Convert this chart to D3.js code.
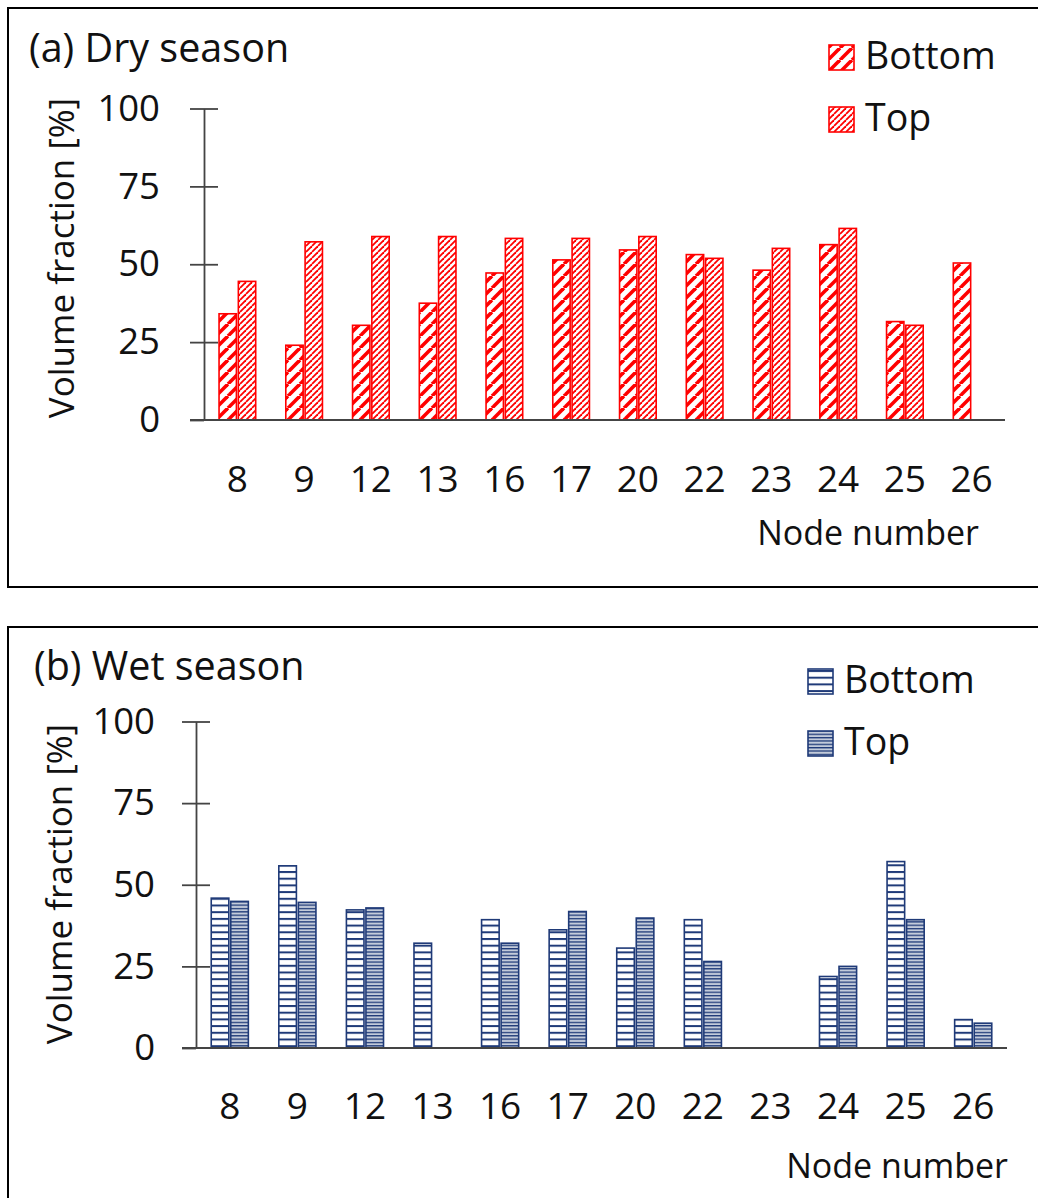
<!DOCTYPE html>
<html>
<head>
<meta charset="utf-8">
<script src="https://cdn.jsdelivr.net/npm/d3@7"></script>
<style>
  html, body { margin: 0; padding: 0; background: #fff; }
  svg { display: block; font-family: "Open Sans", "Noto Sans", sans-serif; }
</style>
</head>
<body>
<svg id="chart" width="1038" height="1198"></svg>
<script>
// Node numbers along the channel
const nodes = ["8", "9", "12", "13", "16", "17", "20", "22", "23", "24", "25", "26"];
// Volume fraction [%] in the dry season
const dryBottom = [34.1, 24.0, 30.4, 37.5, 47.2, 51.4, 54.6, 53.1, 48.1, 56.3, 31.6, 50.4];
const dryTop    = [44.5, 57.2, 58.9, 58.9, 58.3, 58.3, 58.9, 51.9, 55.1, 61.5, 30.4, null];
// Volume fraction [%] in the wet season
const wetBottom = [45.9, 55.8, 42.3, 32.1, 39.3, 36.2, 30.6, 39.3, null, 21.9, 57.1, 8.7];
const wetTop    = [44.9, 44.6, 42.9, null, 32.1, 41.8, 39.8, 26.5, null, 25.0, 39.3, 7.6];
const yTicks = [0, 25, 50, 75, 100];
const seriesNames = ["Bottom", "Top"];

const RED = "#ff0000";
const NAVY = "#1f3a78";

const svg = d3.select("#chart");
const defs = svg.append("defs");

// Hatch patterns
function diagPattern(id, size, width, color) {
  const p = defs.append("pattern").attr("id", id)
    .attr("patternUnits", "userSpaceOnUse")
    .attr("width", size).attr("height", size);
  p.append("rect").attr("width", size).attr("height", size).attr("fill", "#fff");
  // upward diagonal lines "/"
  [-size, 0, size].forEach(o => {
    p.append("line")
      .attr("x1", o).attr("y1", size)
      .attr("x2", o + size).attr("y2", 0)
      .attr("stroke", color).attr("stroke-width", width);
  });
}
function horizPattern(id, size, width, color, bg) {
  const p = defs.append("pattern").attr("id", id)
    .attr("patternUnits", "userSpaceOnUse")
    .attr("width", 10).attr("height", size);
  p.append("rect").attr("width", 10).attr("height", size).attr("fill", bg);
  p.append("rect").attr("x", 0).attr("y", 0).attr("width", 10).attr("height", width).attr("fill", color);
}
diagPattern("dryBottomHatch", 12, 3.6, RED);
diagPattern("dryTopHatch", 6, 1.8, RED);
horizPattern("wetBottomHatch", 6.7, 2.0, NAVY, "#ffffff");
horizPattern("wetTopHatch", 3.35, 1.3, NAVY, "#c3cbda");

function drawPanel(cfg) {
  const g = svg.append("g");

  // panel frame
  g.append("rect")
    .attr("x", cfg.frame[0]).attr("y", cfg.frame[1])
    .attr("width", cfg.frame[2]).attr("height", cfg.frame[3])
    .attr("fill", "none").attr("stroke", "#000").attr("stroke-width", 2);

  const x = d3.scaleBand().domain(nodes).range([cfg.x0, cfg.x1]).paddingInner(0).paddingOuter(0);
  const xs = d3.scaleBand().domain(seriesNames).range([0, x.bandwidth()]).paddingInner(0.1).paddingOuter(0.78);
  const y = d3.scaleLinear().domain([0, 100]).range([cfg.y0, cfg.yTop]);

  // bars
  const series = [
    { name: "Bottom", values: cfg.bottom, fill: cfg.fills[0] },
    { name: "Top", values: cfg.top, fill: cfg.fills[1] }
  ];
  series.forEach(s => {
    g.append("g").selectAll("rect")
      .data(nodes.map((n, i) => ({ n, v: s.values[i] })).filter(d => d.v != null))
      .join("rect")
      .attr("x", d => x(d.n) + xs(s.name))
      .attr("y", d => y(d.v))
      .attr("width", xs.bandwidth())
      .attr("height", d => y(0) - y(d.v))
      .attr("fill", `url(#${s.fill})`)
      .attr("stroke", cfg.color).attr("stroke-width", 1.6);
  });

  // x axis
  const xAxis = g.append("g").attr("transform", `translate(0,${cfg.y0})`)
    .call(d3.axisBottom(x).tickSize(0).tickSizeOuter(0));
  xAxis.select(".domain").attr("stroke", "#444").attr("stroke-width", 1.8)
    .attr("d", `M${cfg.x0 - 14},0H${cfg.x1}`);
  xAxis.selectAll("text").attr("y", cfg.xLabelDy).attr("dy", 0)
    .attr("font-size", 37).attr("fill", "#111").attr("font-family", "Open Sans");

  // y axis with crossing ticks
  const yAxis = g.append("g").attr("transform", `translate(${cfg.x0},0)`)
    .call(d3.axisLeft(y).tickValues(yTicks).tickSize(14).tickPadding(cfg.yPad).tickSizeOuter(0));
  yAxis.select(".domain").attr("stroke", "#444").attr("stroke-width", 1.8);
  yAxis.selectAll(".tick line").attr("stroke", "#444").attr("stroke-width", 1.8);
  yAxis.selectAll("text").attr("font-size", 36.5).attr("fill", "#111").attr("font-family", "Open Sans");
  const yAxisR = g.append("g").attr("transform", `translate(${cfg.x0},0)`)
    .call(d3.axisRight(y).tickValues(yTicks.filter(t => t > 0)).tickSize(14).tickFormat("").tickSizeOuter(0));
  yAxisR.select(".domain").remove();
  yAxisR.selectAll(".tick line").attr("stroke", "#444").attr("stroke-width", 1.8);

  // titles
  g.append("text").attr("x", cfg.titlePos[0]).attr("y", cfg.titlePos[1])
    .attr("font-size", 39.5).attr("fill", "#111").text(cfg.title);
  g.append("text")
    .attr("transform", `translate(${cfg.yTitlePos[0]},${cfg.yTitlePos[1]}) rotate(-90)`)
    .attr("text-anchor", "middle").attr("font-size", 35).attr("fill", "#111")
    .text("Volume fraction [%]");
  g.append("text").attr("x", cfg.xTitlePos[0]).attr("y", cfg.xTitlePos[1])
    .attr("text-anchor", "end").attr("font-size", 34).attr("fill", "#111")
    .text("Node number");

  // legend
  const lg = g.append("g");
  series.forEach((s, i) => {
    const ly = cfg.legend[1] + i * cfg.legendGap;
    lg.append("rect").attr("x", cfg.legend[0]).attr("y", ly)
      .attr("width", 25).attr("height", 25)
      .attr("fill", `url(#${s.fill})`).attr("stroke", cfg.color).attr("stroke-width", 1.6);
    lg.append("text").attr("x", cfg.legend[0] + 36).attr("y", ly + 24)
      .attr("font-size", 37.5).attr("fill", "#111").text(s.name);
  });
}

drawPanel({
  frame: [8, 8, 1040, 579],
  x0: 204, x1: 1005, y0: 420, yTop: 108.5,
  bottom: dryBottom, top: dryTop,
  fills: ["dryBottomHatch", "dryTopHatch"], color: RED,
  xLabelDy: 72, yPad: 30,
  title: "(a) Dry season", titlePos: [29, 62],
  yTitlePos: [74, 258],
  xTitlePos: [979, 545],
  legend: [829, 45], legendGap: 62
});

drawPanel({
  frame: [8, 627, 1040, 600],
  x0: 196, x1: 1007, y0: 1048, yTop: 721.5,
  bottom: wetBottom, top: wetTop,
  fills: ["wetBottomHatch", "wetTopHatch"], color: NAVY,
  xLabelDy: 71, yPad: 27,
  title: "(b) Wet season", titlePos: [34, 680],
  yTitlePos: [72, 884],
  xTitlePos: [1008, 1178],
  legend: [808, 669], legendGap: 62
});
</script>
</body>
</html>
